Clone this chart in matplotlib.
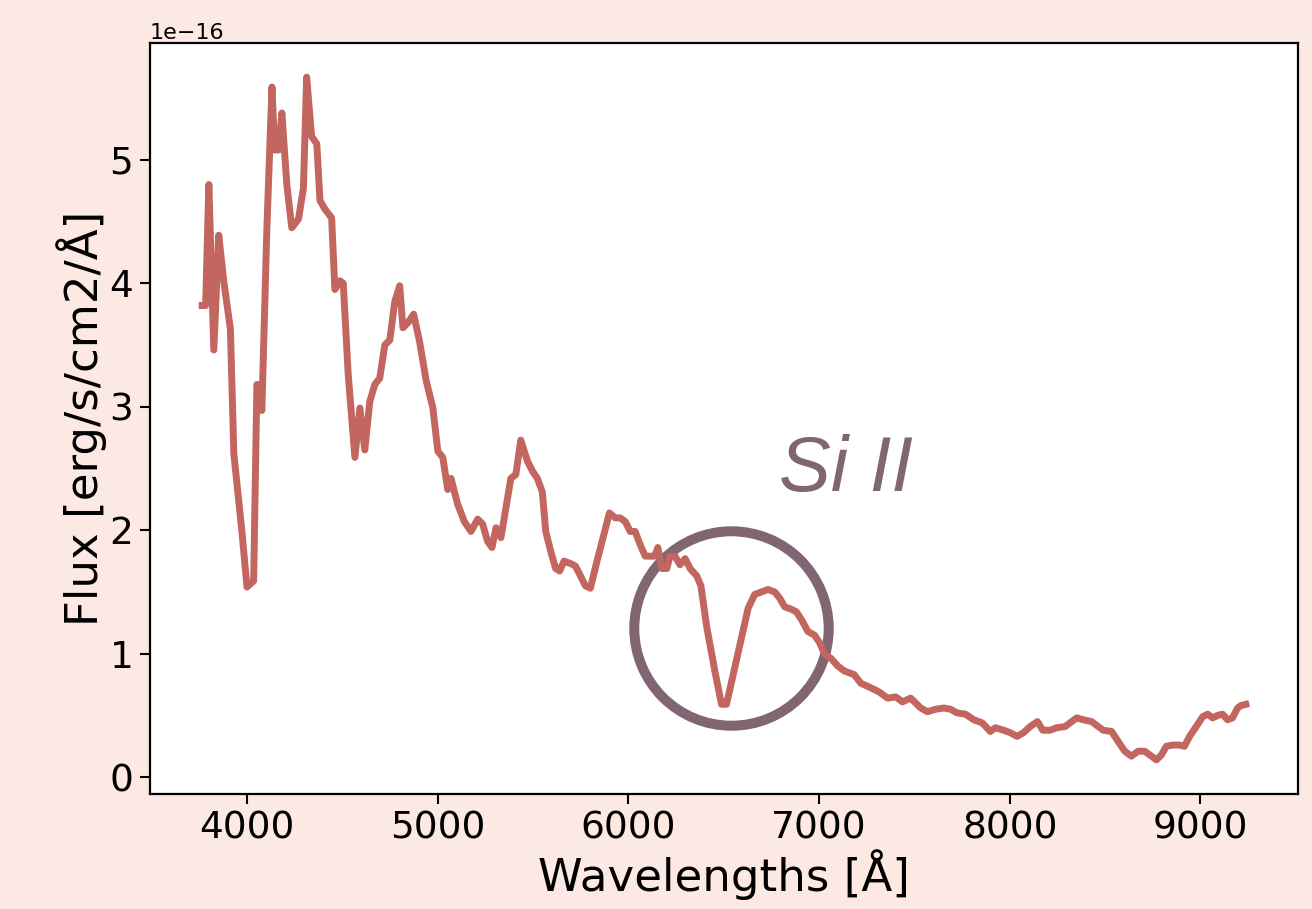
import numpy as np
import matplotlib
matplotlib.use("Agg")
import matplotlib.pyplot as plt

# ========== data (flux in units of 1e-16) ==========
wave = [3764, 3782, 3799, 3825, 3851, 3877, 3912, 3930, 3973, 3999, 4034, 4051,
        4063, 4077, 4103, 4130, 4144, 4165, 4182, 4208, 4234, 4269, 4295, 4312,
        4338, 4365, 4382, 4408, 4443, 4460, 4487, 4504, 4530, 4565, 4591, 4617,
        4643, 4669, 4695, 4722, 4748, 4774, 4800, 4817, 4843, 4873, 4904, 4939,
        4974, 5000, 5026, 5052, 5069, 5104, 5139, 5174, 5209, 5235, 5261, 5284,
        5305, 5331, 5357, 5383, 5409, 5435, 5470, 5496, 5522, 5548, 5566, 5592,
        5618, 5639, 5662, 5696, 5722, 5748, 5774, 5800, 5835, 5870, 5900, 5931,
        5957, 5983, 6009, 6035, 6062, 6088, 6114, 6137, 6154, 6175, 6201, 6218,
        6244, 6270, 6297, 6323, 6358, 6380, 6410, 6453, 6488, 6514, 6549, 6593,
        6628, 6662, 6697, 6732, 6767, 6793, 6819, 6854, 6880, 6906, 6941, 6976,
        7002, 7028, 7063, 7098, 7132, 7184, 7219, 7263, 7315, 7359, 7402, 7437,
        7480, 7533, 7568, 7611, 7654, 7689, 7724, 7768, 7811, 7855, 7898, 7924,
        7968, 8003, 8038, 8072, 8107, 8145, 8173, 8211, 8246, 8290, 8316, 8351,
        8385, 8429, 8464, 8490, 8534, 8568, 8603, 8638, 8673, 8708, 8734, 8769,
        8795, 8821, 8855, 8890, 8916, 8943, 8978, 9012, 9038, 9064, 9090, 9116,
        9142, 9168, 9195, 9212, 9238]
flux = [3.82, 3.82, 4.80, 3.46, 4.39, 4.02, 3.63, 2.62, 1.98, 1.54, 1.59, 3.18,
        3.18, 2.97, 4.43, 5.59, 5.08, 5.08, 5.38, 4.80, 4.45, 4.52, 4.77, 5.67,
        5.19, 5.13, 4.67, 4.60, 4.53, 3.95, 4.02, 4.00, 3.26, 2.59, 2.99, 2.65,
        3.04, 3.18, 3.23, 3.50, 3.54, 3.85, 3.98, 3.64, 3.68, 3.75, 3.53, 3.21,
        2.99, 2.64, 2.59, 2.33, 2.42, 2.21, 2.07, 1.99, 2.09, 2.05, 1.91, 1.86,
        2.02, 1.94, 2.18, 2.42, 2.45, 2.73, 2.56, 2.48, 2.42, 2.31, 1.99, 1.83,
        1.69, 1.67, 1.75, 1.73, 1.71, 1.63, 1.55, 1.53, 1.75, 1.96, 2.14, 2.10,
        2.10, 2.07, 1.99, 1.99, 1.88, 1.79, 1.79, 1.79, 1.86, 1.69, 1.69, 1.79,
        1.79, 1.72, 1.77, 1.69, 1.63, 1.55, 1.22, 0.86, 0.59, 0.59, 0.83, 1.13,
        1.37, 1.48, 1.50, 1.52, 1.50, 1.45, 1.38, 1.36, 1.34, 1.28, 1.18, 1.15,
        1.09, 1.00, 0.96, 0.90, 0.86, 0.83, 0.76, 0.73, 0.69, 0.64, 0.65, 0.61,
        0.64, 0.56, 0.53, 0.55, 0.56, 0.55, 0.52, 0.51, 0.465, 0.44, 0.37, 0.40,
        0.38, 0.36, 0.33, 0.36, 0.41, 0.45, 0.38, 0.38, 0.40, 0.41, 0.44, 0.48,
        0.465, 0.45, 0.41, 0.38, 0.37, 0.29, 0.21, 0.17, 0.21, 0.21, 0.18, 0.14,
        0.18, 0.25, 0.26, 0.26, 0.25, 0.33, 0.41, 0.49, 0.51, 0.48, 0.50, 0.51,
        0.465, 0.48, 0.56, 0.58, 0.59]

line_label = "Si II"
circle_center = (6540, 1.21)   # in Angstrom, 1e-16 flux
label_pos = (6790, 2.32)

# ========== plot ==========
bg = "#fde9e3"
fig = plt.figure(figsize=(13.12, 9.09), dpi=100, facecolor=bg)
ax = fig.add_axes([150 / 1312, 1 - 794 / 909, 1148 / 1312, 751 / 909])
ax.set_facecolor("white")

ax.plot(np.array(wave), np.array(flux) * 1e-16, color="#c3665f", lw=5,
        solid_joinstyle="round", zorder=3)

# circle around the Si II feature
ax.plot(circle_center[0], circle_center[1] * 1e-16, marker="o", ms=140,
        mfc="none", mec="#826572", mew=7.2, zorder=2)
ax.text(label_pos[0], label_pos[1] * 1e-16, line_label, color="#826572",
        fontsize=56, style="italic", family="Liberation Sans",
        ha="left", va="baseline")

ax.set_xlabel("Wavelengths [Å]", fontsize=32.5, labelpad=2)
ax.set_ylabel("Flux [erg/s/cm2/Å]", fontsize=32.5, labelpad=2)
ax.set_xticks([4000, 5000, 6000, 7000, 8000, 9000])
ax.tick_params(labelsize=27, length=7, width=1.5, pad=5)
ax.yaxis.get_offset_text().set_fontsize(16)
for s in ax.spines.values():
    s.set_linewidth(1.6)

fig.savefig("out.png", dpi=100, facecolor=bg)
